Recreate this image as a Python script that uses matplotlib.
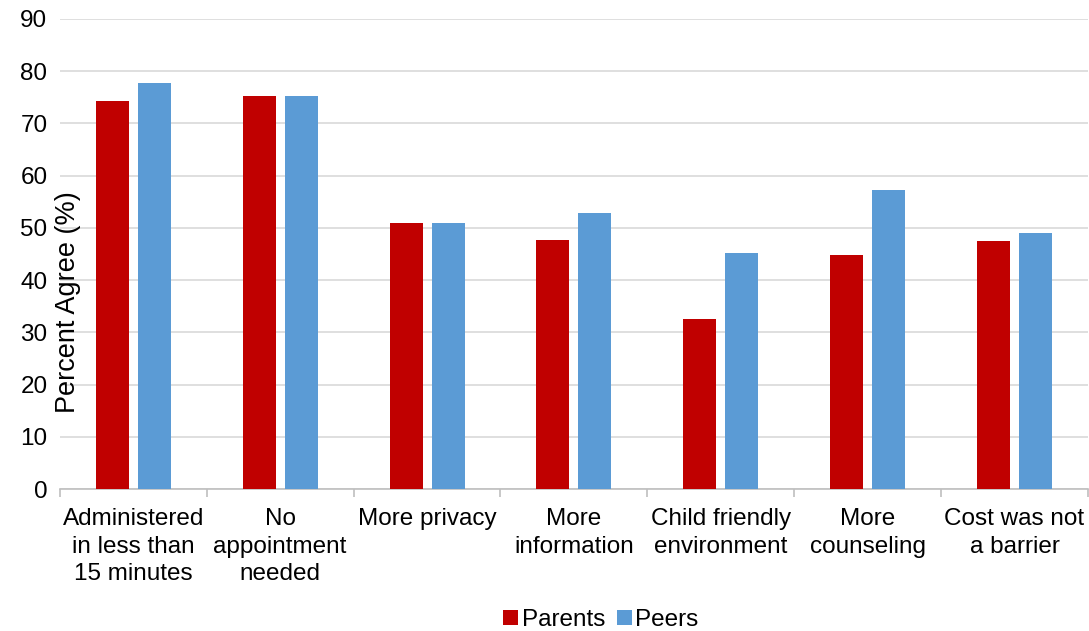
import matplotlib.pyplot as plt
import numpy as np

plt.rcParams['font.family'] = ['Liberation Sans', 'DejaVu Sans']

# data
categories = ["Administered\nin less than\n15 minutes", "No\nappointment\nneeded",
              "More privacy", "More\ninformation", "Child friendly\nenvironment",
              "More\ncounseling", "Cost was not\na barrier"]
parents = [74.2, 75.2, 50.9, 47.7, 32.5, 44.8, 47.4]
peers = [77.7, 75.3, 50.9, 52.8, 45.2, 57.2, 49.0]

fig = plt.figure(figsize=(10.89, 6.31), dpi=100)
ax = fig.add_axes([0.055, 0.225, 0.944, 0.745])

x = np.arange(len(categories))
w = 0.225
ax.bar(x - 0.143, parents, width=w, color='#C00000', label="Parents", zorder=3)
ax.bar(x + 0.143, peers, width=w, color='#5B9BD5', label="Peers", zorder=3)

ax.set_xlim(-0.5, len(categories) - 0.5)
ax.set_ylim(0, 90)
ax.set_yticks(range(0, 91, 10))
ax.yaxis.grid(True, color='#d9d9d9', linewidth=1.2, zorder=0)
ax.set_axisbelow(True)

for s in ['top', 'right', 'left']:
    ax.spines[s].set_visible(False)
ax.spines['bottom'].set_color('#bfbfbf')
ax.spines['bottom'].set_linewidth(1.2)

ax.set_xticks(x)
ax.set_xticklabels(categories, fontsize=17.5, linespacing=1.32)
ax.tick_params(axis='x', length=0, pad=14)
ax.set_xticks(np.arange(len(categories) + 1) - 0.5, minor=True)
ax.tick_params(axis='x', which='minor', length=6, color='#bfbfbf', width=1.2)
ax.tick_params(axis='y', length=0, labelsize=17.5, pad=9)

fig.text(68 / 1089, 1 - 302 / 631, "Percent Agree (%)", rotation=90,
         fontsize=19.5, ha='center', va='center')

fig.legend(loc='center', bbox_to_anchor=(601 / 1089, 11 / 631), ncol=2, frameon=False,
           fontsize=17.5, handlelength=0.6, handleheight=0.6, handletextpad=0.15,
           columnspacing=0.5)

fig.savefig("out.png", dpi=100)
